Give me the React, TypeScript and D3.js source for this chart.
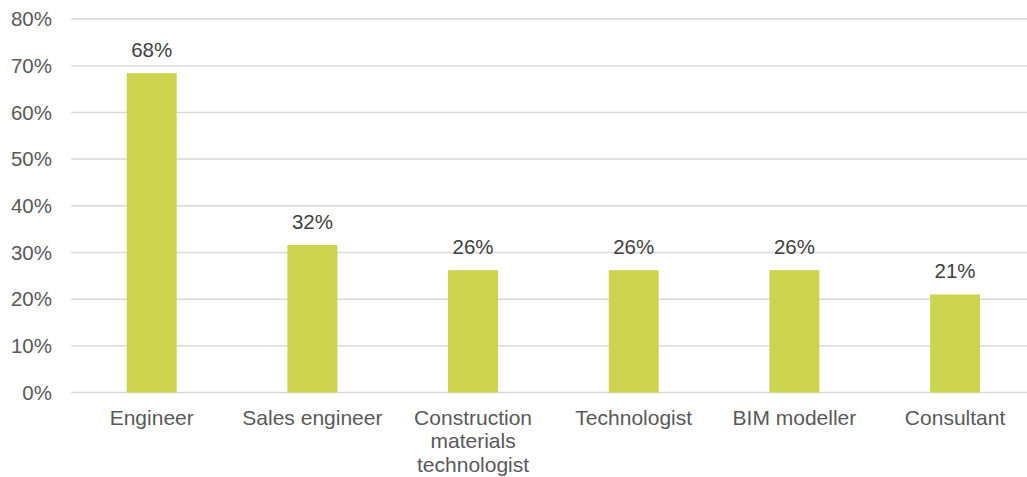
import React from "react";
import * as d3 from "d3";

const categories: string[][] = [
  ["Engineer"],
  ["Sales engineer"],
  ["Construction", "materials", "technologist"],
  ["Technologist"],
  ["BIM modeller"],
  ["Consultant"],
];
const values: number[] = [68.4, 31.6, 26.2, 26.2, 26.2, 21.0];
const valueLabels: string[] = ["68%", "32%", "26%", "26%", "26%", "21%"];
const yTicks: number[] = [0, 10, 20, 30, 40, 50, 60, 70, 80];

const W = 1027;
const H = 477;
const FONT = "'Liberation Sans', Arial, sans-serif";
const FS = 20.5;
const FS_CAT = 21;

export default function App() {
  const x = d3
    .scaleBand<number>()
    .domain(categories.map((_, i) => i))
    .range([71.4, 1035.4])
    .paddingInner(0.689)
    .paddingOuter(0.3445);
  const y = d3.scaleLinear().domain([0, 80]).range([392.5, 19]);

  return (
    <svg
      width={W}
      height={H}
      style={{ position: "absolute", left: 0, top: 0, background: "#fff" }}
    >
      {yTicks.map((t) => (
        <g key={t}>
          <line
            x1={71}
            x2={W}
            y1={y(t)}
            y2={y(t)}
            stroke="#d9d9d9"
            strokeWidth={1.5}
          />
          <text
            x={52}
            y={y(t)}
            dy="0.35em"
            textAnchor="end"
            fontFamily={FONT}
            fontSize={FS}
            fill="#595959"
          >
            {t}%
          </text>
        </g>
      ))}
      {values.map((v, i) => {
        const bx = x(i)!;
        const bw = x.bandwidth();
        return (
          <g key={i}>
            <rect
              x={bx}
              y={y(v)}
              width={bw}
              height={y(0) - y(v)}
              fill="#ccd34f"
            />
            <text
              x={bx + bw / 2}
              y={y(v) - 16}
              textAnchor="middle"
              fontFamily={FONT}
              fontSize={FS}
              fill="#404040"
            >
              {valueLabels[i]}
            </text>
            <text
              textAnchor="middle"
              fontFamily={FONT}
              fontSize={FS_CAT}
              fill="#595959"
            >
              {categories[i].map((line, j) => (
                <tspan key={j} x={bx + bw / 2} y={424.5 + j * 23.5}>
                  {line}
                </tspan>
              ))}
            </text>
          </g>
        );
      })}
    </svg>
  );
}
